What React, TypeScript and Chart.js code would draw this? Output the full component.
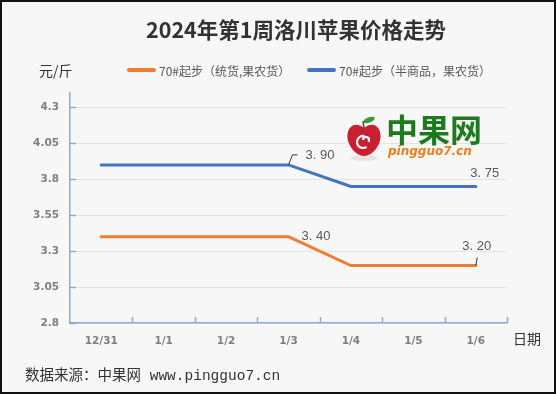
import React, { useEffect, useRef } from 'react';
import { Chart, registerables } from 'chart.js';

Chart.register(...registerables);

const TITLE = '2024年第1周洛川苹果价格走势';
const UNIT_LABEL = '元/斤';
const X_AXIS_LABEL = '日期';
const SOURCE_TEXT = '数据来源：中果网 www.pingguo7.cn';
const WATERMARK_CN = '中果网';
const WATERMARK_URL = 'pingguo7.cn';

const categories = ['12/31', '1/1', '1/2', '1/3', '1/4', '1/5', '1/6'];
const orangeName = '70#起步（统货,果农货）';
const blueName = '70#起步（半商品，果农货）';
const orangeValues = [3.4, 3.4, 3.4, 3.4, 3.2, 3.2, 3.2];
const blueValues = [3.9, 3.9, 3.9, 3.9, 3.75, 3.75, 3.75];
const yTickValues = [2.8, 3.05, 3.3, 3.55, 3.8, 4.05, 4.3];
const yTickLabels = ['2.8', '3.05', '3.3', '3.55', '3.8', '4.05', '4.3'];
const blueLabelIdx = [3, 6];
const orangeLabelIdx = [3, 6];

const ORANGE = '#ED7D31';
const BLUE = '#4472C4';
const AXIS = '#8eaadb';

function fmt(v: number) {
  return v.toFixed(2).replace('.', '. ');
}

function drawApple(ctx: CanvasRenderingContext2D, cx: number, cy: number) {
  ctx.save();
  ctx.fillStyle = 'rgba(0,0,0,0.08)';
  ctx.beginPath();
  ctx.ellipse(cx, cy + 19, 14, 3, 0, 0, Math.PI * 2);
  ctx.fill();
  ctx.fillStyle = '#c8202f';
  ctx.beginPath();
  ctx.moveTo(cx, cy - 11);
  ctx.bezierCurveTo(cx + 10, cy - 19, cx + 19, cy - 11, cx + 16, cy + 2);
  ctx.bezierCurveTo(cx + 13, cy + 12, cx + 5, cy + 17, cx, cy + 17);
  ctx.bezierCurveTo(cx - 5, cy + 17, cx - 13, cy + 12, cx - 16, cy + 2);
  ctx.bezierCurveTo(cx - 19, cy - 11, cx - 10, cy - 19, cx, cy - 11);
  ctx.fill();
  ctx.strokeStyle = '#ffffff';
  ctx.lineWidth = 2.2;
  ctx.beginPath();
  ctx.arc(cx - 1, cy + 3, 6, 0.3 * Math.PI, 1.6 * Math.PI);
  ctx.stroke();
  ctx.beginPath();
  ctx.arc(cx + 2, cy + 1, 3, 1.0 * Math.PI, 2.2 * Math.PI);
  ctx.stroke();
  ctx.strokeStyle = '#6b3b1a';
  ctx.lineWidth = 1.5;
  ctx.beginPath();
  ctx.moveTo(cx, cy - 11);
  ctx.lineTo(cx - 1, cy - 18);
  ctx.stroke();
  ctx.fillStyle = '#3c9a3c';
  ctx.beginPath();
  ctx.ellipse(cx + 5, cy - 19, 6, 2.6, -0.35, 0, Math.PI * 2);
  ctx.fill();
  ctx.restore();
}

const decorPlugin = {
  id: 'decor',
  beforeDraw(chart: any) {
    const { ctx, width, height } = chart;
    ctx.save();
    ctx.fillStyle = '#f7f7f7';
    ctx.fillRect(0, 0, width, height);
    ctx.strokeStyle = '#111';
    ctx.lineWidth = 2;
    ctx.strokeRect(1, 1, width - 2, height - 2);

    ctx.fillStyle = '#333';
    ctx.font = 'bold 21.5px "Noto Sans CJK SC"';
    ctx.textAlign = 'center';
    ctx.textBaseline = 'middle';
    ctx.fillText(TITLE, 296, 30);

    ctx.font = '14px "Noto Sans CJK SC"';
    ctx.textAlign = 'left';
    ctx.fillText(UNIT_LABEL, 39, 71);

    const legend = [
      { name: orangeName, color: ORANGE, x: 129 },
      { name: blueName, color: BLUE, x: 309 },
    ];
    ctx.font = '12px "Noto Sans CJK SC"';
    legend.forEach((l) => {
      ctx.strokeStyle = l.color;
      ctx.lineWidth = 4;
      ctx.lineCap = 'round';
      ctx.beginPath();
      ctx.moveTo(l.x, 70);
      ctx.lineTo(l.x + 25, 70);
      ctx.stroke();
      ctx.fillStyle = '#595959';
      ctx.fillText(l.name, l.x + 30, 71);
    });

    ctx.fillStyle = '#333';
    ctx.font = '14px "Noto Sans CJK SC"';
    ctx.fillText(X_AXIS_LABEL, 513, 339);

    ctx.font = '14.5px "Liberation Mono", "Noto Sans CJK SC"';
    ctx.fillText(SOURCE_TEXT, 25, 376);
    ctx.restore();
  },
  beforeDatasetsDraw(chart: any) {
    const { ctx } = chart;
    ctx.save();
    drawApple(ctx, 364, 139);
    ctx.fillStyle = '#1f7a1f';
    ctx.font = 'bold 32px "Noto Sans CJK SC"';
    ctx.textAlign = 'left';
    ctx.textBaseline = 'middle';
    ctx.fillText(WATERMARK_CN, 386, 130);
    ctx.fillStyle = '#f07c1e';
    ctx.font = 'italic bold 12px "DejaVu Sans"';
    ctx.fillText(WATERMARK_URL, 388, 152);
    ctx.restore();
  },
  afterDatasetsDraw(chart: any) {
    const { ctx, chartArea } = chart;
    const xs = chart.scales.x;
    const ys = chart.scales.y;
    ctx.save();
    ctx.strokeStyle = AXIS;
    ctx.lineWidth = 1.5;
    const step = (chartArea.right - chartArea.left) / categories.length;
    for (let i = 1; i <= categories.length; i++) {
      const x = Math.round(chartArea.left + step * i) + 0.5;
      ctx.beginPath();
      ctx.moveTo(x, chartArea.bottom);
      ctx.lineTo(x, chartArea.bottom - 6);
      ctx.stroke();
    }
    yTickValues.forEach((v) => {
      const y = Math.round(ys.getPixelForValue(v)) + 0.5;
      ctx.beginPath();
      ctx.moveTo(chartArea.left, y);
      ctx.lineTo(chartArea.left + 6, y);
      ctx.stroke();
    });

    ctx.font = '13px "Liberation Sans"';
    ctx.fillStyle = '#595959';
    ctx.textBaseline = 'middle';
    ctx.strokeStyle = '#333';
    ctx.lineWidth = 1;
    ctx.lineCap = 'butt';
    blueLabelIdx.forEach((i) => {
      const px = xs.getPixelForValue(i);
      const py = ys.getPixelForValue(blueValues[i]);
      if (i === 3) {
        ctx.beginPath();
        ctx.moveTo(px, py);
        ctx.lineTo(px + 4, py - 10);
        ctx.lineTo(px + 9, py - 10);
        ctx.stroke();
        ctx.textAlign = 'left';
        ctx.fillText(fmt(blueValues[i]), px + 17, py - 9);
      } else {
        ctx.textAlign = 'center';
        ctx.fillText(fmt(blueValues[i]), px + 9, py - 13);
      }
    });
    orangeLabelIdx.forEach((i) => {
      const px = xs.getPixelForValue(i);
      const py = ys.getPixelForValue(orangeValues[i]);
      if (i === 3) {
        ctx.textAlign = 'left';
        ctx.fillText(fmt(orangeValues[i]), px + 13, py);
      } else {
        ctx.beginPath();
        ctx.moveTo(px, py);
        ctx.lineTo(px + 1.5, py - 8);
        ctx.stroke();
        ctx.textAlign = 'center';
        ctx.fillText(fmt(orangeValues[i]), px + 1, py - 19);
      }
    });
    ctx.restore();
  },
};

export default function App() {
  const ref = useRef<HTMLCanvasElement>(null);
  useEffect(() => {
    if (!ref.current) return;
    const chart = new Chart(ref.current, {
      type: 'line',
      data: {
        labels: categories,
        datasets: [
          {
            label: orangeName,
            data: orangeValues,
            borderColor: ORANGE,
            backgroundColor: ORANGE,
            borderWidth: 3,
            borderCapStyle: 'round',
            pointRadius: 0,
            tension: 0,
          },
          {
            label: blueName,
            data: blueValues,
            borderColor: BLUE,
            backgroundColor: BLUE,
            borderWidth: 3,
            borderCapStyle: 'round',
            pointRadius: 0,
            tension: 0,
          },
        ],
      },
      options: {
        responsive: false,
        animation: false,
        devicePixelRatio: 1,
        layout: { padding: { top: 93, left: 0, right: 49, bottom: 31 } },
        plugins: { legend: { display: false }, title: { display: false }, tooltip: { enabled: false } },
        scales: {
          x: {
            type: 'category',
            offset: true,
            grid: { display: false, drawTicks: false },
            border: { display: true, color: AXIS, width: 1.5 },
            ticks: {
              color: '#7f7f7f',
              font: { family: '"DejaVu Sans"', size: 10.5, weight: 'bold' },
              padding: 12,
              maxRotation: 0,
              autoSkip: false,
            },
            afterFit: (s: any) => {
              s.height = 40;
            },
          },
          y: {
            min: 2.8,
            max: 4.4,
            grid: { color: '#e3e3e3', lineWidth: 1, drawTicks: false },
            border: { display: true, color: AXIS, width: 1.5 },
            afterBuildTicks: (s: any) => {
              s.ticks = yTickValues.map((v) => ({ value: v }));
            },
            ticks: {
              color: '#7f7f7f',
              font: { family: '"DejaVu Sans"', size: 10.5, weight: 'bold' },
              padding: 11,
              callback: (v: any) => {
                const i = yTickValues.findIndex((t) => Math.abs(t - v) < 1e-6);
                return i >= 0 ? yTickLabels[i] : '';
              },
            },
            afterFit: (s: any) => {
              s.width = 70;
            },
          },
        },
      },
      plugins: [decorPlugin],
    } as any);
    return () => chart.destroy();
  }, []);
  return (
    <div style={{ position: 'fixed', left: 0, top: 0, width: 556, height: 394 }}>
      <canvas ref={ref} width={556} height={394} style={{ display: 'block' }} />
    </div>
  );
}
